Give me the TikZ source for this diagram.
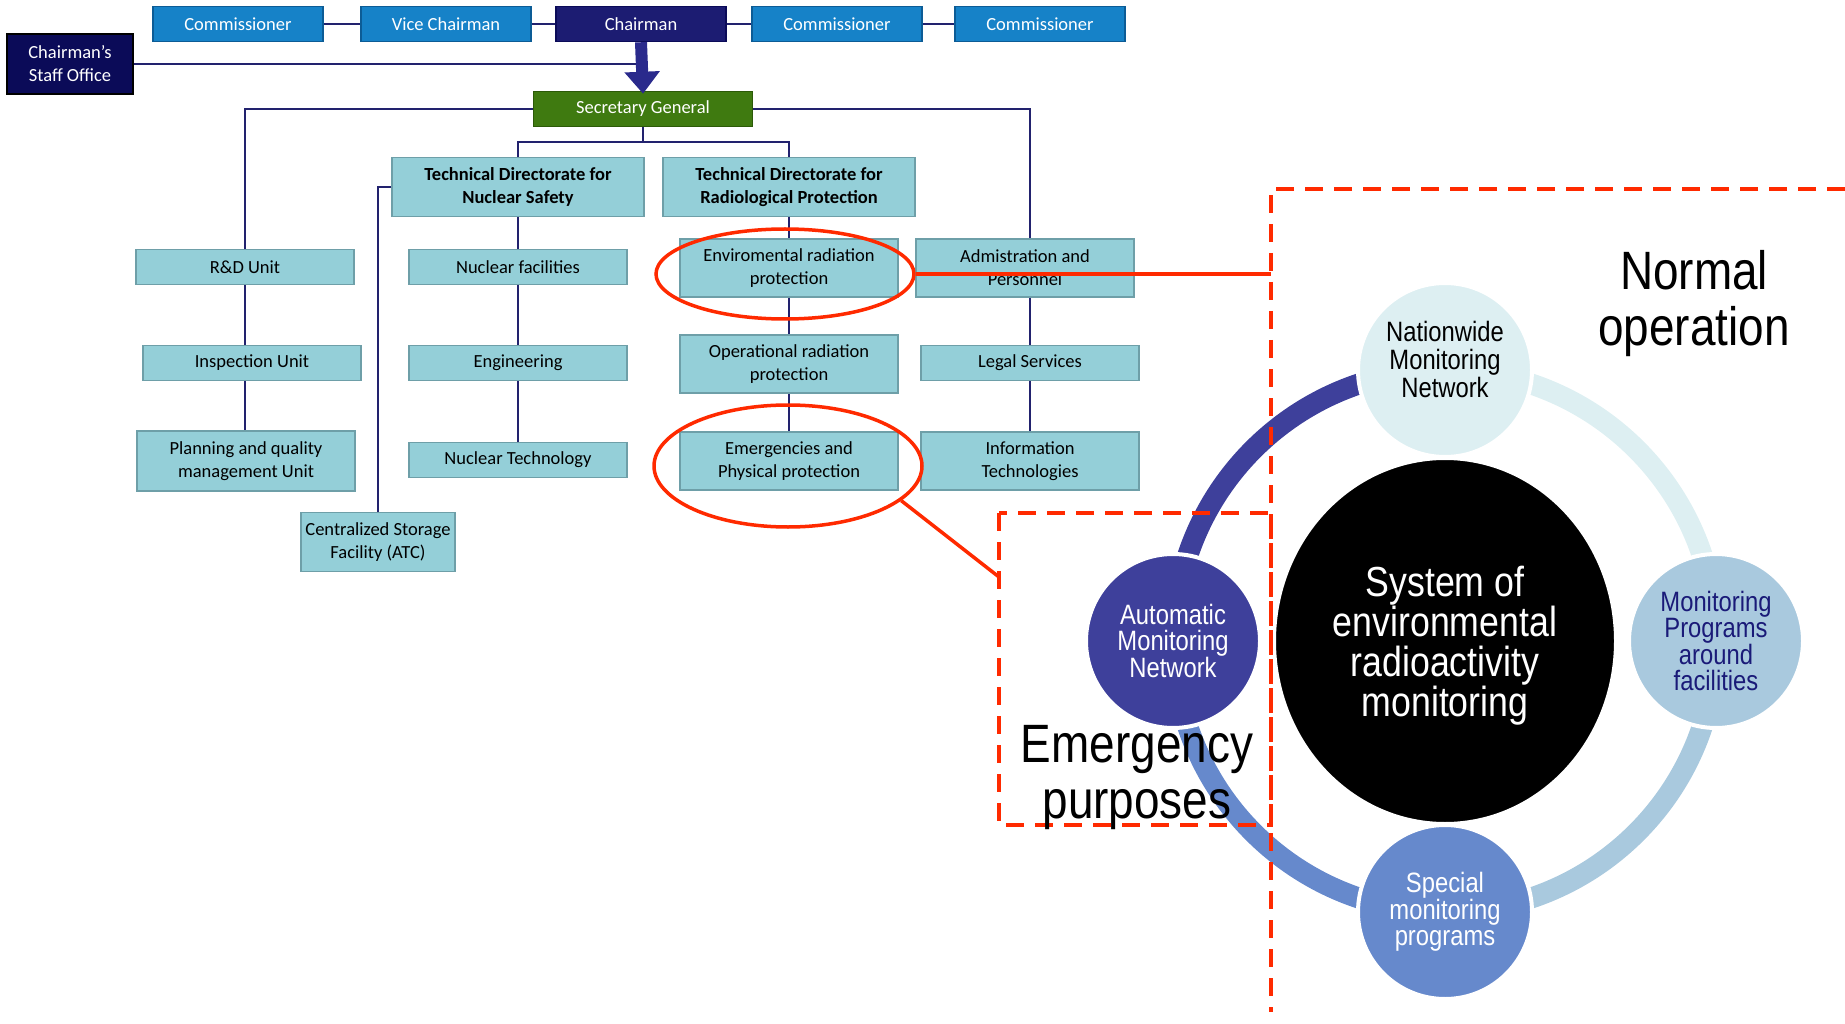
\documentclass[tikz,border=0pt]{standalone}
\usepackage{fontspec}
\setmainfont{Carlito}
\newfontfamily\arialn[FakeStretch=0.85]{Liberation Sans}
\usetikzlibrary{arrows.meta}
\usetikzlibrary{shapes.geometric}

\definecolor{combl}{HTML}{1682C8}
\definecolor{combd}{HTML}{0C5C96}
\definecolor{chairbl}{HTML}{1C1C72}
\definecolor{staffbl}{HTML}{0B0B58}
\definecolor{sggreen}{HTML}{3F7A10}
\definecolor{sgdark}{HTML}{2C5A08}
\definecolor{tealbox}{HTML}{94CFD8}
\definecolor{tealdk}{HTML}{6E9FA8}
\definecolor{linebl}{HTML}{22226E}
\definecolor{arrowbl}{HTML}{2A2A8C}
\definecolor{markred}{HTML}{FF2A00}
\definecolor{autobl}{HTML}{3E409B}
\definecolor{specbl}{HTML}{6689CC}
\definecolor{progbl}{HTML}{A9C9DE}
\definecolor{natcol}{HTML}{DDEFF2}
\definecolor{navytxt}{HTML}{1A1A78}

\tikzset{
	topbox/.style={draw=combd, fill=combl, line width=1.5pt, text=white, align=center,
		minimum width=170pt, minimum height=35pt, inner sep=1pt, font=\fontsize{18.5}{23}\selectfont},
	orgbox/.style={draw=tealdk, fill=tealbox, line width=1.5pt, align=center,
		minimum width=218pt, minimum height=35pt, inner sep=1pt, font=\fontsize{18.5}{23}\selectfont},
	orgline/.style={draw=linebl, line width=1.6pt},
	bigarrow/.style={draw=arrowbl, line width=12pt, -{Triangle[width=34pt,length=22pt]}},
	redring/.style={ellipse, draw=markred, line width=3.5pt, inner sep=0pt},
	redline/.style={draw=markred, line width=3.5pt},
	reddash/.style={draw=markred, line width=3.5pt, dash pattern=on 18pt off 11pt},
	ringarc/.style={line width=21pt},
	sat/.style={circle, draw=white, line width=4pt, minimum size=174pt, inner sep=0pt,
		align=center, font=\arialn\fontsize{28}{26}\selectfont},
	bigtxt/.style={align=center, font=\arialn\fontsize{54}{56}\selectfont}
}

\begin{document}
\begin{tikzpicture}[x=1pt, y=-1pt]
	\useasboundingbox (0,0) rectangle (1845,1024);

	\node[topbox] (com1) at (238,24) {Commissioner};
	\node[topbox] (vice) at (446,24) {Vice Chairman};
	\node[topbox, fill=chairbl, draw=staffbl] (chair) at (641,24) {Chairman};
	\node[topbox] (com3) at (837,24) {Commissioner};
	\node[topbox] (com4) at (1040,24) {Commissioner};
	\node[topbox, fill=staffbl, draw=black, minimum width=126pt, minimum height=60pt] (staff) at (70,64) {Chairman’s\\Staff Office};
	\node[topbox, fill=sggreen, draw=sgdark, minimum width=219pt] (sg) at (643,109) {Secretary General};

	\node[orgbox, minimum width=252pt, minimum height=59pt, font=\bfseries\fontsize{18.5}{23}\selectfont] (tdns) at (518,187) {Technical Directorate for\\Nuclear Safety};
	\node[orgbox, minimum width=252pt, minimum height=59pt, font=\bfseries\fontsize{18.5}{23}\selectfont] (tdrp) at (789,187) {Technical Directorate for\\Radiological Protection};

	\node[orgbox] (rd) at (245,267) {R\&D Unit};
	\node[orgbox] (insp) at (252,363) {Inspection Unit};
	\node[orgbox, minimum height=60pt] (plan) at (246,461) {Planning and quality\\management Unit};

	\node[orgbox] (nf) at (518,267) {Nuclear facilities};
	\node[orgbox] (eng) at (518,363) {Engineering};
	\node[orgbox] (nt) at (518,460) {Nuclear Technology};
	\node[orgbox, minimum width=154pt, minimum height=59pt] (csf) at (378,542) {Centralized Storage\\Facility (ATC)};

	\node[orgbox, minimum height=58pt] (env) at (789,268) {Enviromental radiation\\protection};
	\node[orgbox, minimum height=58pt] (oper) at (789,364) {Operational radiation\\protection};
	\node[orgbox, minimum height=58pt] (emerg) at (789,461) {Emergencies and\\Physical protection};

	\node[orgbox, minimum height=58pt] (admin) at (1025,268) {Admistration and\\Personnel};
	\node[orgbox] (legal) at (1030,363) {Legal Services};
	\node[orgbox, minimum height=58pt] (it) at (1030,461) {Information\\Technologies};

	\draw[orgline] (com1) -- (vice);
	\draw[orgline] (vice) -- (chair);
	\draw[orgline] (chair) -- (com3);
	\draw[orgline] (com3) -- (com4);
	\draw[orgline] (staff.east) -- (staff.east -| chair.south);
	\draw[bigarrow] (chair.south) -- ([yshift=-3pt]sg.north);

	\coordinate (split) at (643,142);
	\draw[orgline] (sg.west) -| (rd.north);
	\draw[orgline] (sg.east) -| (legal.north |- admin.north);
	\draw[orgline] (sg.south) -- (split);
	\draw[orgline] (tdns.north) |- (split) -| (tdrp.north);
	\draw[orgline] (tdns.west) -| (csf.north);

	\draw[orgline] (rd.south) -- (rd.south |- insp.north);
	\draw[orgline] (rd.south |- insp.south) -- (rd.south |- plan.north);
	\draw[orgline] (tdns) -- (nf);
	\draw[orgline] (nf) -- (eng);
	\draw[orgline] (eng) -- (nt);
	\draw[orgline] (tdrp) -- (env);
	\draw[orgline] (env) -- (oper);
	\draw[orgline] (oper) -- (emerg);
	\draw[orgline] (legal.north |- admin.south) -- (legal.north);
	\draw[orgline] (legal) -- (it);

	\coordinate (hub) at (1445,641);
	\draw[ringarc, draw=autobl] (hub) ++(180:271) arc[start angle=180, end angle=270, radius=271];
	\draw[ringarc, draw=natcol] (hub) ++(270:271) arc[start angle=270, end angle=360, radius=271];
	\draw[ringarc, draw=progbl] (hub) ++(0:271) arc[start angle=0, end angle=90, radius=271];
	\draw[ringarc, draw=specbl] (hub) ++(90:271) arc[start angle=90, end angle=180, radius=271];

	\node[ellipse, fill=black, draw=white, line width=4pt, minimum width=342pt, minimum height=366pt,
		text=white, align=center, text depth=0pt, font=\arialn\fontsize{42}{40}\selectfont] (sysmon) at (hub) {System of\\environmental\\radioactivity\\monitoring};
	\node[sat, fill=natcol, text=black, text depth=22pt, font=\arialn\fontsize{28}{28}\selectfont] (natnet) at (1445,370) {Nationwide\\Monitoring\\Network};
	\node[sat, fill=progbl, text=navytxt] (progs) at (1716,641) {Monitoring\\Programs\\around\\facilities};
	\node[sat, fill=specbl, text=white] (special) at (1445,912) {Special\\monitoring\\programs};
	\node[sat, fill=autobl, text=white] (autonet) at (1173,641) {Automatic\\Monitoring\\Network};

	\node[redring, minimum width=258pt, minimum height=90pt] (envring) at (785,274) {};
	\node[redring, minimum width=268pt, minimum height=122pt] (emring) at (788,466) {};
	\coordinate (dcorner) at (1271,189);
	\coordinate (emhit) at (999,577);
	\draw[redline] (envring.east) -- (envring.east -| dcorner);
	\draw[redline] (emring.-17) -- (emhit);
	\draw[reddash] (1845,189) -- (dcorner) -- (1271,1012);
	\draw[reddash] (999,513) rectangle (1271,825);

	\node[bigtxt] (normal) at (1694,304) {Normal\\operation};
	\node[bigtxt] (emerpurp) at (1137,778) {Emergency\\purposes};
\end{tikzpicture}
\end{document}
